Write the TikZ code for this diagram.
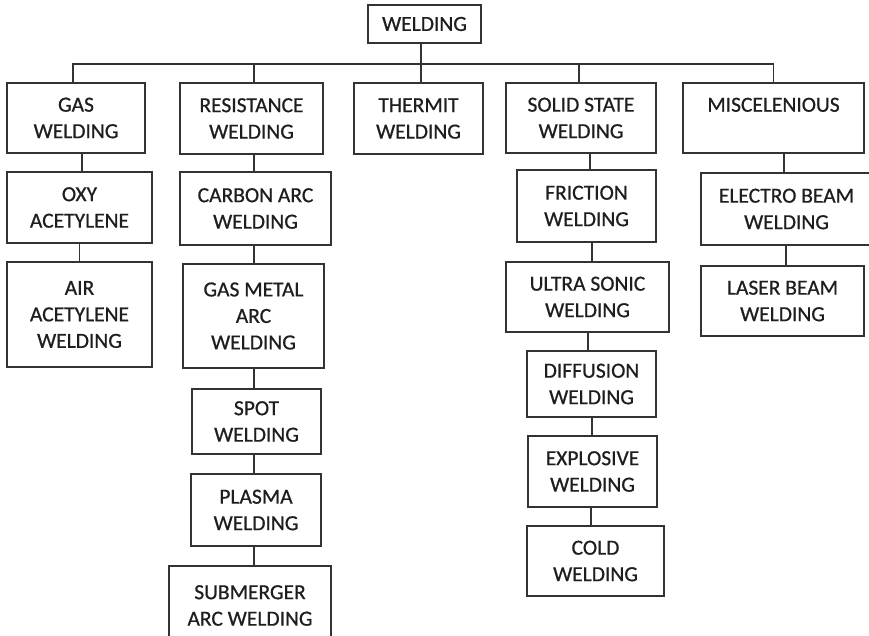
\documentclass[tikz,border=0pt]{standalone}
\usepackage{fontspec}
\setmainfont{Carlito}
\newfontface\bxfont{Carlito}[FakeBold=0.7]
\definecolor{ln}{HTML}{333333}
\definecolor{tx}{HTML}{1e1e1e}
\tikzset{
  box/.style={draw=ln, line width=1.6pt, inner sep=0pt, align=center, text=tx,
    font=\bxfont\fontsize{21.5}{26.5}\selectfont},
  wire/.style={draw=ln, line width=1.6pt}
}
\newcommand{\bx}[6]{\node[box, minimum width=#4pt, minimum height=#5pt] (#1) at (#2,#3) {#6};}
\newcommand{\lnk}[3]{\path ([xshift=#3pt]#2.north) coordinate (tt); \draw[wire] (tt) -- (tt |- #1.south);}
\begin{document}
\begin{tikzpicture}[x=1pt,y=-1pt]
\useasboundingbox (0,0) rectangle (869,635);
\bx{weld}{424.5}{24}{113}{38}{WELDING}
\bx{gas}{76}{118}{138}{70}{GAS\\WELDING}
\bx{res}{251.5}{118.5}{143}{71}{RESISTANCE\\WELDING}
\bx{therm}{418.5}{118.5}{129}{71}{THERMIT\\WELDING}
\bx{solid}{581}{118}{150}{70}{SOLID STATE\\WELDING}
\bx{misc}{773.5}{118}{181}{70}{MISCELENIOUS\\\mbox{}}
\bx{oxy}{79.5}{207.5}{145}{71}{OXY\\ACETYLENE}
\bx{carbon}{255.5}{208.5}{151}{73}{CARBON ARC\\WELDING}
\bx{fric}{586.5}{206}{139}{72}{FRICTION\\WELDING}
\bx{electro}{786.5}{209}{171}{72}{ELECTRO BEAM\\WELDING}
\bx{air}{79.5}{314.5}{145}{105}{AIR\\ACETYLENE\\WELDING}
\bx{gma}{253.5}{316}{141}{104}{GAS METAL\\ARC\\WELDING}
\bx{ultra}{587.5}{297}{163}{70}{ULTRA SONIC\\WELDING}
\bx{laser}{782.5}{301}{163}{70}{LASER BEAM\\WELDING}
\bx{spot}{256.5}{421.5}{129}{65}{SPOT\\WELDING}
\bx{diff}{591.5}{384}{129}{66}{DIFFUSION\\WELDING}
\bx{plasma}{256}{510}{130}{72}{PLASMA\\WELDING}
\bx{expl}{592.5}{471.5}{129}{71}{EXPLOSIVE\\WELDING}
\bx{sub}{250}{605.5}{162}{79}{SUBMERGER\\ARC WELDING}
\bx{cold}{595.5}{561}{137}{70}{COLD\\WELDING}
% bus
\coordinate (bus) at (0,64);
\draw[wire] ([xshift=-3pt]gas.north) -- ([xshift=-3pt]gas.north |- bus) -- (misc.north |- bus) -- (misc.north);
\draw[wire] ([xshift=2.5pt]res.north) -- ([xshift=2.5pt]res.north |- bus);
\draw[wire] ([xshift=-2pt]solid.north) -- ([xshift=-2pt]solid.north |- bus);
\draw[wire] ([xshift=2.5pt]therm.north) -- ([xshift=2.5pt]therm.north |- weld.south);
% stacks
\lnk{gas}{oxy}{2.5}
\lnk{oxy}{air}{0}
\lnk{res}{carbon}{-1.5}
\lnk{carbon}{gma}{0.5}
\lnk{gma}{spot}{-2.5}
\lnk{spot}{plasma}{-2}
\lnk{plasma}{sub}{4}
\lnk{solid}{fric}{3.5}
\lnk{fric}{ultra}{4.5}
\lnk{ultra}{diff}{-3.5}
\lnk{diff}{expl}{-0.5}
\lnk{expl}{cold}{-4.5}
\lnk{misc}{electro}{-2.5}
\lnk{electro}{laser}{3.5}
\end{tikzpicture}
\end{document}
